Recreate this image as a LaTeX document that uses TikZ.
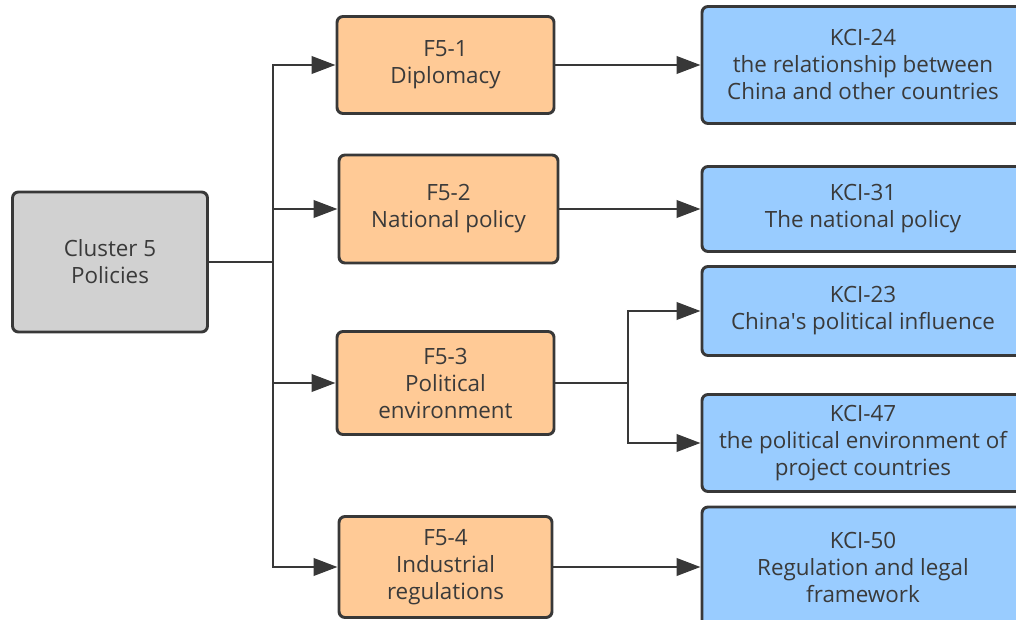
\documentclass[tikz,border=0pt]{standalone}
\usepackage{fontspec}
\setmainfont{Open Sans}
\usetikzlibrary{arrows.meta}
\definecolor{edgegray}{HTML}{383838}
\definecolor{txtgray}{HTML}{3A3A3A}
\definecolor{clustergray}{HTML}{D1D1D1}
\definecolor{factororange}{HTML}{FFCA96}
\definecolor{kciblue}{HTML}{99CCFF}
\begin{document}
\begin{tikzpicture}[x=0.75pt, y=-0.75pt, line width=2.2pt, draw=edgegray,
        >={Triangle[length=18pt,width=13pt]},
        box/.style = {draw=edgegray, rounded corners=4.5pt, align=center, text=txtgray, inner sep=0pt, font=\fontsize{16.8}{20.25}\selectfont},
        cluster/.style = {box, fill=clustergray},
        factor/.style = {box, fill=factororange},
        kci/.style = {box, fill=kciblue, minimum width=241.5pt}]
        \clip (0,0) rectangle (1016,620);
        \node[cluster, minimum width=146.25pt, minimum height=105pt] (clu) at (110,262) {Cluster 5\\Policies};
        \node[factor, minimum width=162.75pt, minimum height=72.75pt] (f1) at (445.5,65) {F5-1\\Diplomacy};
        \node[factor, minimum width=164.25pt, minimum height=81pt] (f2) at (448.5,209) {F5-2\\National policy};
        \node[factor, minimum width=162.75pt, minimum height=77.25pt] (f3) at (445.5,383) {F5-3\\Political\\environment};
        \node[factor, minimum width=159.75pt, minimum height=75.75pt] (f4) at (445.5,567) {F5-4\\Industrial\\regulations};
        \node[kci, minimum height=87.75pt] (k24) at (863,65) {KCI-24\\the relationship between\\China and other countries};
        \node[kci, minimum height=63.75pt] (k31) at (863,209) {KCI-31\\The national policy};
        \node[kci, minimum height=66.75pt] (k23) at (863,311) {KCI-23\\China\textquotesingle s political influence};
        \node[kci, minimum height=72.75pt] (k47) at (863,443) {KCI-47\\the political environment of\\project countries};
        \node[kci, minimum height=90pt] (k50) at (863,567) {KCI-50\\Regulation and legal\\framework};
        \coordinate (sp) at (273,262);
        \coordinate (br3) at (628,383);
        \draw (clu) -- (sp);
        \draw[->] (sp) |- (f1);
        \draw[->] (sp) |- (f2);
        \draw[->] (sp) |- (f3);
        \draw[->] (sp) |- (f4);
        \draw[->] (f1) -- (k24);
        \draw[->] (f2) -- (k31);
        \draw (f3) -- (br3);
        \draw[->] (br3) |- (k23);
        \draw[->] (br3) |- (k47);
        \draw[->] (f4) -- (k50);
    \end{tikzpicture}
\end{document}
